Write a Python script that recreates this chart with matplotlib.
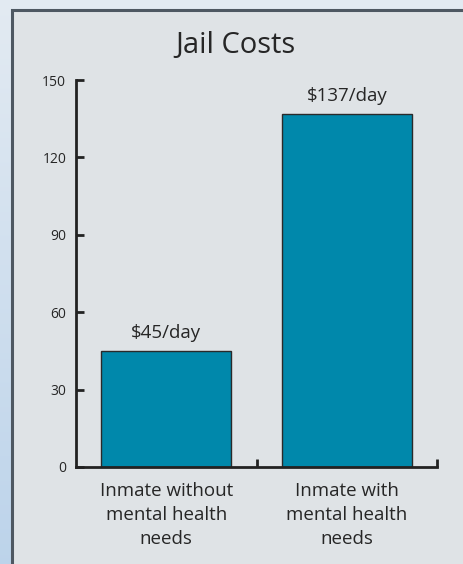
import numpy as np
import matplotlib.pyplot as plt
from matplotlib.patches import Rectangle

plt.rcParams['font.family'] = ['Open Sans', 'DejaVu Sans']

# dane
categories = ['Inmate without\nmental health\nneeds', 'Inmate with\nmental health\nneeds']
costs = [45, 137]
bar_labels = ['$45/day', '$137/day']
y_ticks = [0, 30, 60, 90, 120, 150]

text_color = '#262626'
bar_color = '#0088ab'

fig = plt.figure(figsize=(4.63, 5.64), dpi=100)

# tlo z gradientem
bg = fig.add_axes([0, 0, 1, 1])
grad = np.linspace(0, 1, 256).reshape(-1, 1)
top = np.array([0.89, 0.92, 0.95])
bottom = np.array([0.74, 0.83, 0.92])
img = top + (bottom - top) * grad[:, :, None]
bg.imshow(img, aspect='auto', extent=[0, 1, 0, 1], origin='upper')
bg.add_patch(Rectangle((11.5 / 463, -0.1), 1.2, 1 - 10.5 / 564 + 0.1,
                       facecolor='#dfe3e6', edgecolor='#4e5862', lw=2.2,
                       transform=bg.transAxes))
bg.set_xlim(0, 1)
bg.set_ylim(0, 1)
bg.axis('off')

ax = fig.add_axes([76 / 463, 97 / 564, 361 / 463, 387 / 564])
ax.set_facecolor('none')
x = np.arange(len(costs)) + 0.5
ax.bar(x, costs, width=0.72, color=bar_color, edgecolor='#2a2a2a', linewidth=1.0, zorder=2)

for xi, v, lab in zip(x, costs, bar_labels):
    ax.text(xi, v + 3.5, lab, ha='center', va='bottom', fontsize=13.5, color=text_color)

ax.set_xlim(0, 2)
ax.set_ylim(0, 150)
ax.set_yticks(y_ticks)
ax.set_yticklabels([str(t) for t in y_ticks], fontsize=10, color=text_color)
ax.tick_params(axis='y', direction='in', length=6, width=2, color='#222222', pad=7)

ax.set_xticks([1, 2])
ax.set_xticklabels([])
ax.tick_params(axis='x', which='major', direction='in', length=6, width=2, color='#222222')
ax.set_xticks(x, minor=True)
ax.set_xticklabels(categories, minor=True, fontsize=13.5, color=text_color, linespacing=1.42)
ax.tick_params(axis='x', which='minor', length=0, pad=11)

for s in ['top', 'right']:
    ax.spines[s].set_visible(False)
for s in ['left', 'bottom']:
    ax.spines[s].set_linewidth(2)
    ax.spines[s].set_color('#222222')

fig.text(235 / 463, 1 - 45 / 564, 'Jail Costs', ha='center', va='center', fontsize=21, color=text_color)

fig.savefig('out.png', dpi=100)
